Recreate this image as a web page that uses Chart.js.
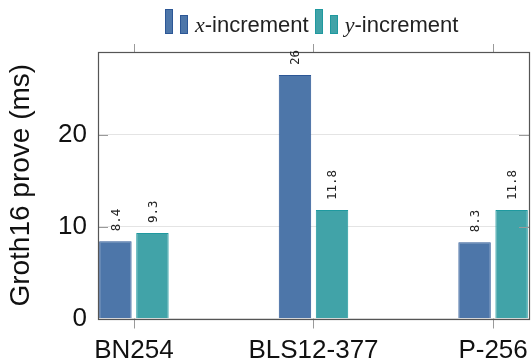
<!DOCTYPE html>
<html>
<head>
<meta charset="utf-8">
<script src="https://cdn.jsdelivr.net/npm/chart.js@4/dist/chart.umd.min.js"></script>
<style>
  html, body { margin: 0; padding: 0; background: #fff; }
  #wrap { position: relative; width: 531px; height: 364px; }
  #legend { position: absolute; left: 165px; top: 8px; height: 26px; display: flex; align-items: flex-end;
    font-family: "Liberation Sans", Arial, sans-serif; font-size: 22px; color: #222; white-space: nowrap; }
  .ico { display: inline-block; width: 8px; box-sizing: border-box; border: 1px solid; margin-right: 7px; }
  .txt { margin-right: 6px; line-height: 21px; position: relative; top: 1px; }
  .txt i { font-family: "Liberation Serif", serif; }
</style>
</head>
<body>
<div id="wrap">
  <canvas id="c" width="531" height="364"></canvas>
  <div id="legend"></div>
</div>
<script>
const categories = ["BN254", "BLS12-377", "P-256"];
const seriesNames = ["x", "y"];
const xIncrement = [8.4, 26.5, 8.3];
const yIncrement = [9.3, 11.8, 11.8];
const xIncrementLabels = ["8.4", "26", "8.3"];
const yIncrementLabels = ["9.3", "11.8", "11.8"];
const yTicks = [0, 10, 20];

const BLUE = "#4d76a9", BLUE_B = "#2c5796";
const TEAL = "#41a3a8", TEAL_B = "#1f999f";

// HTML legend
const legend = document.getElementById("legend");
[[seriesNames[0], BLUE, BLUE_B], [seriesNames[1], TEAL, TEAL_B]].forEach(([n, f, b]) => {
  const i1 = document.createElement("span"); i1.className = "ico";
  i1.style.height = "25px"; i1.style.background = f; i1.style.borderColor = b;
  const i2 = document.createElement("span"); i2.className = "ico";
  i2.style.height = "19px"; i2.style.background = f; i2.style.borderColor = b;
  const t = document.createElement("span"); t.className = "txt";
  t.innerHTML = "<i>" + n + "</i>-increment";
  legend.appendChild(i1); legend.appendChild(i2); legend.appendChild(t);
});

const valueLabels = {
  id: "valueLabels",
  afterDatasetsDraw(chart) {
    const ctx = chart.ctx;
    const texts = [xIncrementLabels, yIncrementLabels];
    chart.data.datasets.forEach((ds, di) => {
      chart.getDatasetMeta(di).data.forEach((bar, i) => {
        ctx.save();
        ctx.translate(bar.x, bar.y - 10);
        ctx.rotate(-Math.PI / 2);
        ctx.font = '12.5px "DejaVu Sans Mono", monospace';
        ctx.fillStyle = "#222";
        ctx.textAlign = "left";
        ctx.textBaseline = "middle";
        ctx.fillText(texts[di][i], 0, 1);
        ctx.restore();
      });
    });
  }
};

const frame = {
  id: "frame",
  afterDatasetsDraw(chart) {
    const { ctx, chartArea: a, scales } = chart;
    ctx.save();
    ctx.strokeStyle = "#9a9a9a";
    ctx.lineWidth = 1;
    [0, 1, 2].forEach(v => {
      const px = Math.round(scales.x.getPixelForValue(v)) + 0.5;
      ctx.beginPath();
      ctx.moveTo(px, a.top - 8); ctx.lineTo(px, a.top);
      ctx.moveTo(px, a.bottom); ctx.lineTo(px, a.bottom + 10);
      ctx.stroke();
    });
    yTicks.forEach(v => {
      const py = Math.round(scales.y.getPixelForValue(v)) + 0.5;
      ctx.beginPath();
      ctx.moveTo(a.left, py); ctx.lineTo(a.left + 10, py);
      ctx.moveTo(a.right - 10, py); ctx.lineTo(a.right, py);
      ctx.stroke();
    });
    ctx.restore();
    ctx.save();
    ctx.strokeStyle = "#555";
    ctx.lineWidth = 1.2;
    ctx.strokeRect(Math.round(a.left) + 0.5, Math.round(a.top) + 0.5,
      Math.round(a.right - a.left), Math.round(a.bottom - a.top));
    ctx.restore();
  }
};

new Chart(document.getElementById("c"), {
  type: "bar",
  data: {
    datasets: [
      { label: "x-increment", data: xIncrement.map((v, i) => ({ x: i, y: v })),
        backgroundColor: BLUE, borderColor: BLUE_B, borderWidth: 1 },
      { label: "y-increment", data: yIncrement.map((v, i) => ({ x: i, y: v })),
        backgroundColor: TEAL, borderColor: TEAL_B, borderWidth: 1 }
    ]
  },
  options: {
    responsive: false,
    animation: false,
    categoryPercentage: 0.4125,
    barPercentage: 0.876,
    layout: { padding: { top: 52, right: 2, left: 0, bottom: 0 } },
    plugins: { legend: { display: false }, tooltip: { enabled: false } },
    scales: {
      x: {
        type: "linear", min: -0.2, max: 2.2, offset: false,
        afterBuildTicks: s => { s.ticks = [0, 1, 2].map(v => ({ value: v })); },
        afterFit: s => { s.height = 45.5; s.paddingLeft = 0; s.paddingRight = 0; },
        grid: { display: false, drawTicks: false, offset: false },
        border: { display: false },
        ticks: {
          padding: 17, maxRotation: 0, autoSkip: false,
          callback: v => categories[v],
          font: { family: '"Liberation Sans", Arial, sans-serif', size: 26 },
          color: "#111"
        }
      },
      y: {
        min: 0, max: 29,
        afterBuildTicks: s => { s.ticks = yTicks.map(v => ({ value: v })); },
        afterFit: s => { s.width = 98; s.paddingTop = 0; s.paddingBottom = 0; },
        grid: { color: "#e4e4e4", drawTicks: false, lineWidth: 1 },
        border: { display: false },
        ticks: {
          padding: 11,
          font: { family: '"Liberation Sans", Arial, sans-serif', size: 26 },
          color: "#111"
        },
        title: {
          display: true, text: "Groth16 prove (ms)",
          font: { family: '"Liberation Sans", Arial, sans-serif', size: 28 },
          color: "#111", padding: { top: 4, bottom: 0 }
        }
      }
    }
  },
  plugins: [frame, valueLabels]
});
</script>
</body>
</html>
